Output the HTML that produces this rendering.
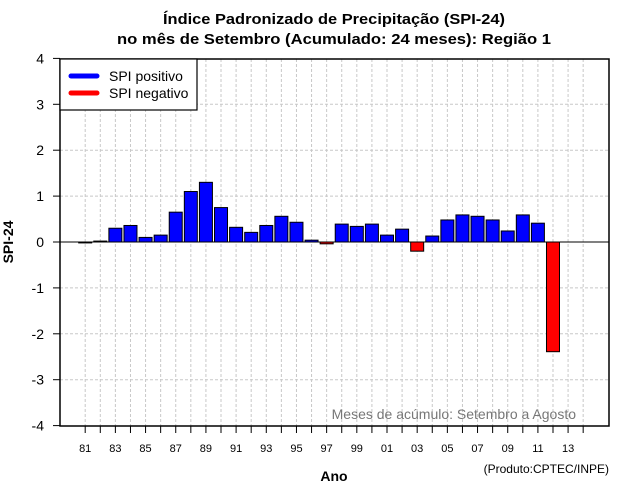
<!DOCTYPE html>
<html><head><meta charset="utf-8"><style>
body{margin:0;background:#fff}
svg{display:block;font-family:"Liberation Sans",sans-serif}
</style></head><body>
<svg id="chart" width="640" height="500" viewBox="0 0 640 500" xmlns="http://www.w3.org/2000/svg">
<rect width="640" height="500" fill="#fff"/>
<text x="334" y="24" text-anchor="middle" font-size="15" font-weight="bold" textLength="342" lengthAdjust="spacingAndGlyphs">Índice Padronizado de Precipitação (SPI-24)</text>
<text x="334" y="44" text-anchor="middle" font-size="15" font-weight="bold" textLength="434" lengthAdjust="spacingAndGlyphs">no mês de Setembro (Acumulado: 24 meses): Região 1</text>
<g id="grid"></g>
<g id="bars"></g>
<line x1="60" x2="609" y1="242" y2="242" stroke="#000" stroke-width="1"/>
<rect x="60" y="59" width="549" height="367" fill="none" stroke="#000" stroke-width="1.5"/>
<g id="axes"></g>
<g>
<rect x="60" y="59" width="137" height="51" fill="#fff" stroke="#000" stroke-width="1.2"/>
<line x1="71" x2="97" y1="76" y2="76" stroke="#0000ff" stroke-width="5" stroke-linecap="round"/>
<text x="109" y="81" font-size="14">SPI positivo</text>
<line x1="71" x2="97" y1="93" y2="93" stroke="#ff0000" stroke-width="5" stroke-linecap="round"/>
<text x="109" y="98" font-size="14">SPI negativo</text>
</g>
<text x="576" y="419" text-anchor="end" font-size="14" fill="#777">Meses de acúmulo: Setembro a Agosto</text>
<text transform="translate(13,242) rotate(-90)" text-anchor="middle" font-size="14" font-weight="bold">SPI-24</text>
<text x="334" y="481" text-anchor="middle" font-size="14" font-weight="bold">Ano</text>
<text x="609" y="473" text-anchor="end" font-size="12">(Produto:CPTEC/INPE)</text>
</svg>
<script>
const years = [1981,1982,1983,1984,1985,1986,1987,1988,1989,1990,1991,1992,1993,1994,1995,1996,1997,1998,1999,2000,2001,2002,2003,2004,2005,2006,2007,2008,2009,2010,2011,2012];
const spiValues = [-0.02,0.02,0.3,0.36,0.1,0.15,0.65,1.1,1.3,0.75,0.32,0.21,0.36,0.56,0.43,0.04,-0.04,0.39,0.34,0.39,0.15,0.28,-0.2,0.13,0.48,0.59,0.56,0.48,0.24,0.59,0.41,-2.39];
const yTicks = [-4,-3,-2,-1,0,1,2,3,4];
const firstYear = 1981, lastTickYear = 2014;
const NS = "http://www.w3.org/2000/svg";
function xScale(yr){ return 85.2 + (yr - firstYear) * 15.09; }
function yScale(v){ return 242 - v * 45.9; }
function mk(tag, attrs, parent){ const e=document.createElementNS(NS,tag); for(const k in attrs) e.setAttribute(k,attrs[k]); parent.appendChild(e); return e; }
const grid=document.getElementById('grid'), bars=document.getElementById('bars'), axes=document.getElementById('axes');
yTicks.forEach(t=>{
  const y=yScale(t);
  if(t!==0 && t!==4 && t!==-4){
    const g=mk('line',{x1:60,x2:609,y1:y,y2:y,stroke:'#c8c8c8','stroke-dasharray':'3,2'},grid);
    
    
  }
  const tk=mk('line',{x1:53,x2:60,y1:y,y2:y,stroke:'#000'},axes);
  
  
  const lb=mk('text',{x:44,y:y+5,'text-anchor':'end','font-size':14},axes);
  lb.textContent=t;
  
  
});
for(let yr=firstYear; yr<=lastTickYear; yr++){
  const x=xScale(yr);
  const g=mk('line',{x1:x,x2:x,y1:59,y2:426,stroke:'#c8c8c8','stroke-dasharray':'3,2'},grid);
  
  
  const tk=mk('line',{x1:x,x2:x,y1:426,y2:433,stroke:'#000'},axes);
  
  
  if((yr-firstYear)%2===0){
    const lb=mk('text',{x:x,y:452,'text-anchor':'middle','font-size':11},axes);
    lb.textContent=String(yr%100).padStart(2,'0');
    
    
  }
}
years.forEach((yr,i)=>{
  const v=spiValues[i], x=xScale(yr), y0=yScale(0), y1=yScale(v);
  const r=mk('rect',{x:x-6.5,y:Math.min(y0,y1),width:13,height:Math.max(Math.abs(y1-y0),0.8),fill:v>=0?'#0000ff':'#ff0000',stroke:'#000','stroke-width':1},bars);
  
  
});
</script>
</body></html>
